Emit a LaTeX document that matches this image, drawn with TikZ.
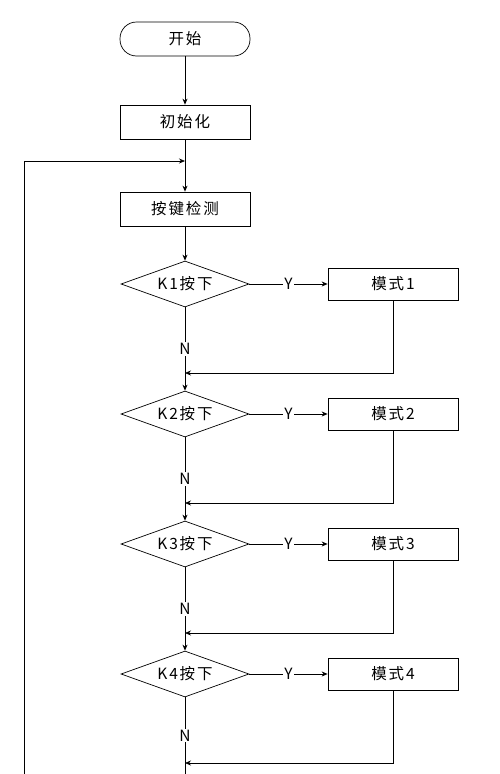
\documentclass[tikz,border=0pt]{standalone}
\usepackage{fontspec}
\setmainfont{Noto Sans CJK SC}[LetterSpace=12]
\usetikzlibrary{shapes.geometric,arrows.meta}
\begin{document}
\begin{tikzpicture}[x=1pt,y=-1pt,
  line width=0.7pt,
  every node/.style={font=\fontsize{15.5}{17}\selectfont},
  term/.style={draw,rounded corners=16.5pt,minimum width=130pt,minimum height=34pt,inner sep=0pt},
  procbox/.style={draw,minimum width=130pt,minimum height=34pt,inner sep=0pt},
  modebox/.style={draw,minimum width=130pt,minimum height=32pt,inner sep=0pt},
  decision/.style={draw,diamond,aspect=2.78,minimum width=128pt,minimum height=46pt,inner sep=0pt},
  lbl/.style={fill=white,inner sep=1pt},
  arr/.style={-{Stealth[length=6pt,width=5pt]}}
]
\useasboundingbox (0,0) rectangle (500,774);
\node[term] (start) at (185,39) {开始};
\node[procbox] (init) at (185,122) {初始化};
\coordinate (loopin) at (185,161);
\coordinate (loopcorner) at (24,161);
\coordinate (loopbottom) at (24,774);
\node[procbox] (detect) at (185,209) {按键检测};
\node[decision] (d1) at (185,284) {K1按下};
\node[modebox] (m1) at (393,284) {模式1};
\node[decision] (d2) at (185,414) {K2按下};
\node[modebox] (m2) at (393,414) {模式2};
\node[decision] (d3) at (185,544) {K3按下};
\node[modebox] (m3) at (393,544) {模式3};
\node[decision] (d4) at (185,674) {K4按下};
\node[modebox] (m4) at (393,674) {模式4};
\coordinate (r1) at (393,373);
\coordinate (j1) at (185,373);
\coordinate (r2) at (393,503);
\coordinate (j2) at (185,503);
\coordinate (r3) at (393,633);
\coordinate (j3) at (185,633);
\coordinate (r4) at (393,763);
\coordinate (j4) at (185,763);
\coordinate (bottom) at (185,774);

\draw[arr] (start) -- (init);
\draw[arr] (init) -- (detect);
\draw[arr] (loopbottom) -- (loopcorner) -- (loopin);
\draw[arr] (detect) -- (d1);

\draw[arr] (d1) -- node[lbl]{Y} (m1);
\draw[arr] (d2) -- node[lbl]{Y} (m2);
\draw[arr] (d3) -- node[lbl]{Y} (m3);
\draw[arr] (d4) -- node[lbl]{Y} (m4);

\draw[arr] (d1) -- node[lbl]{N} (d2);
\draw[arr] (d2) -- node[lbl]{N} (d3);
\draw[arr] (d3) -- node[lbl]{N} (d4);
\draw (d4.south) -- node[lbl,pos=0.5]{N} (bottom);

\draw[arr] (m1) -- (r1) -- (j1);
\draw[arr] (m2) -- (r2) -- (j2);
\draw[arr] (m3) -- (r3) -- (j3);
\draw[arr] (m4) -- (r4) -- (j4);
\end{tikzpicture}
\end{document}
